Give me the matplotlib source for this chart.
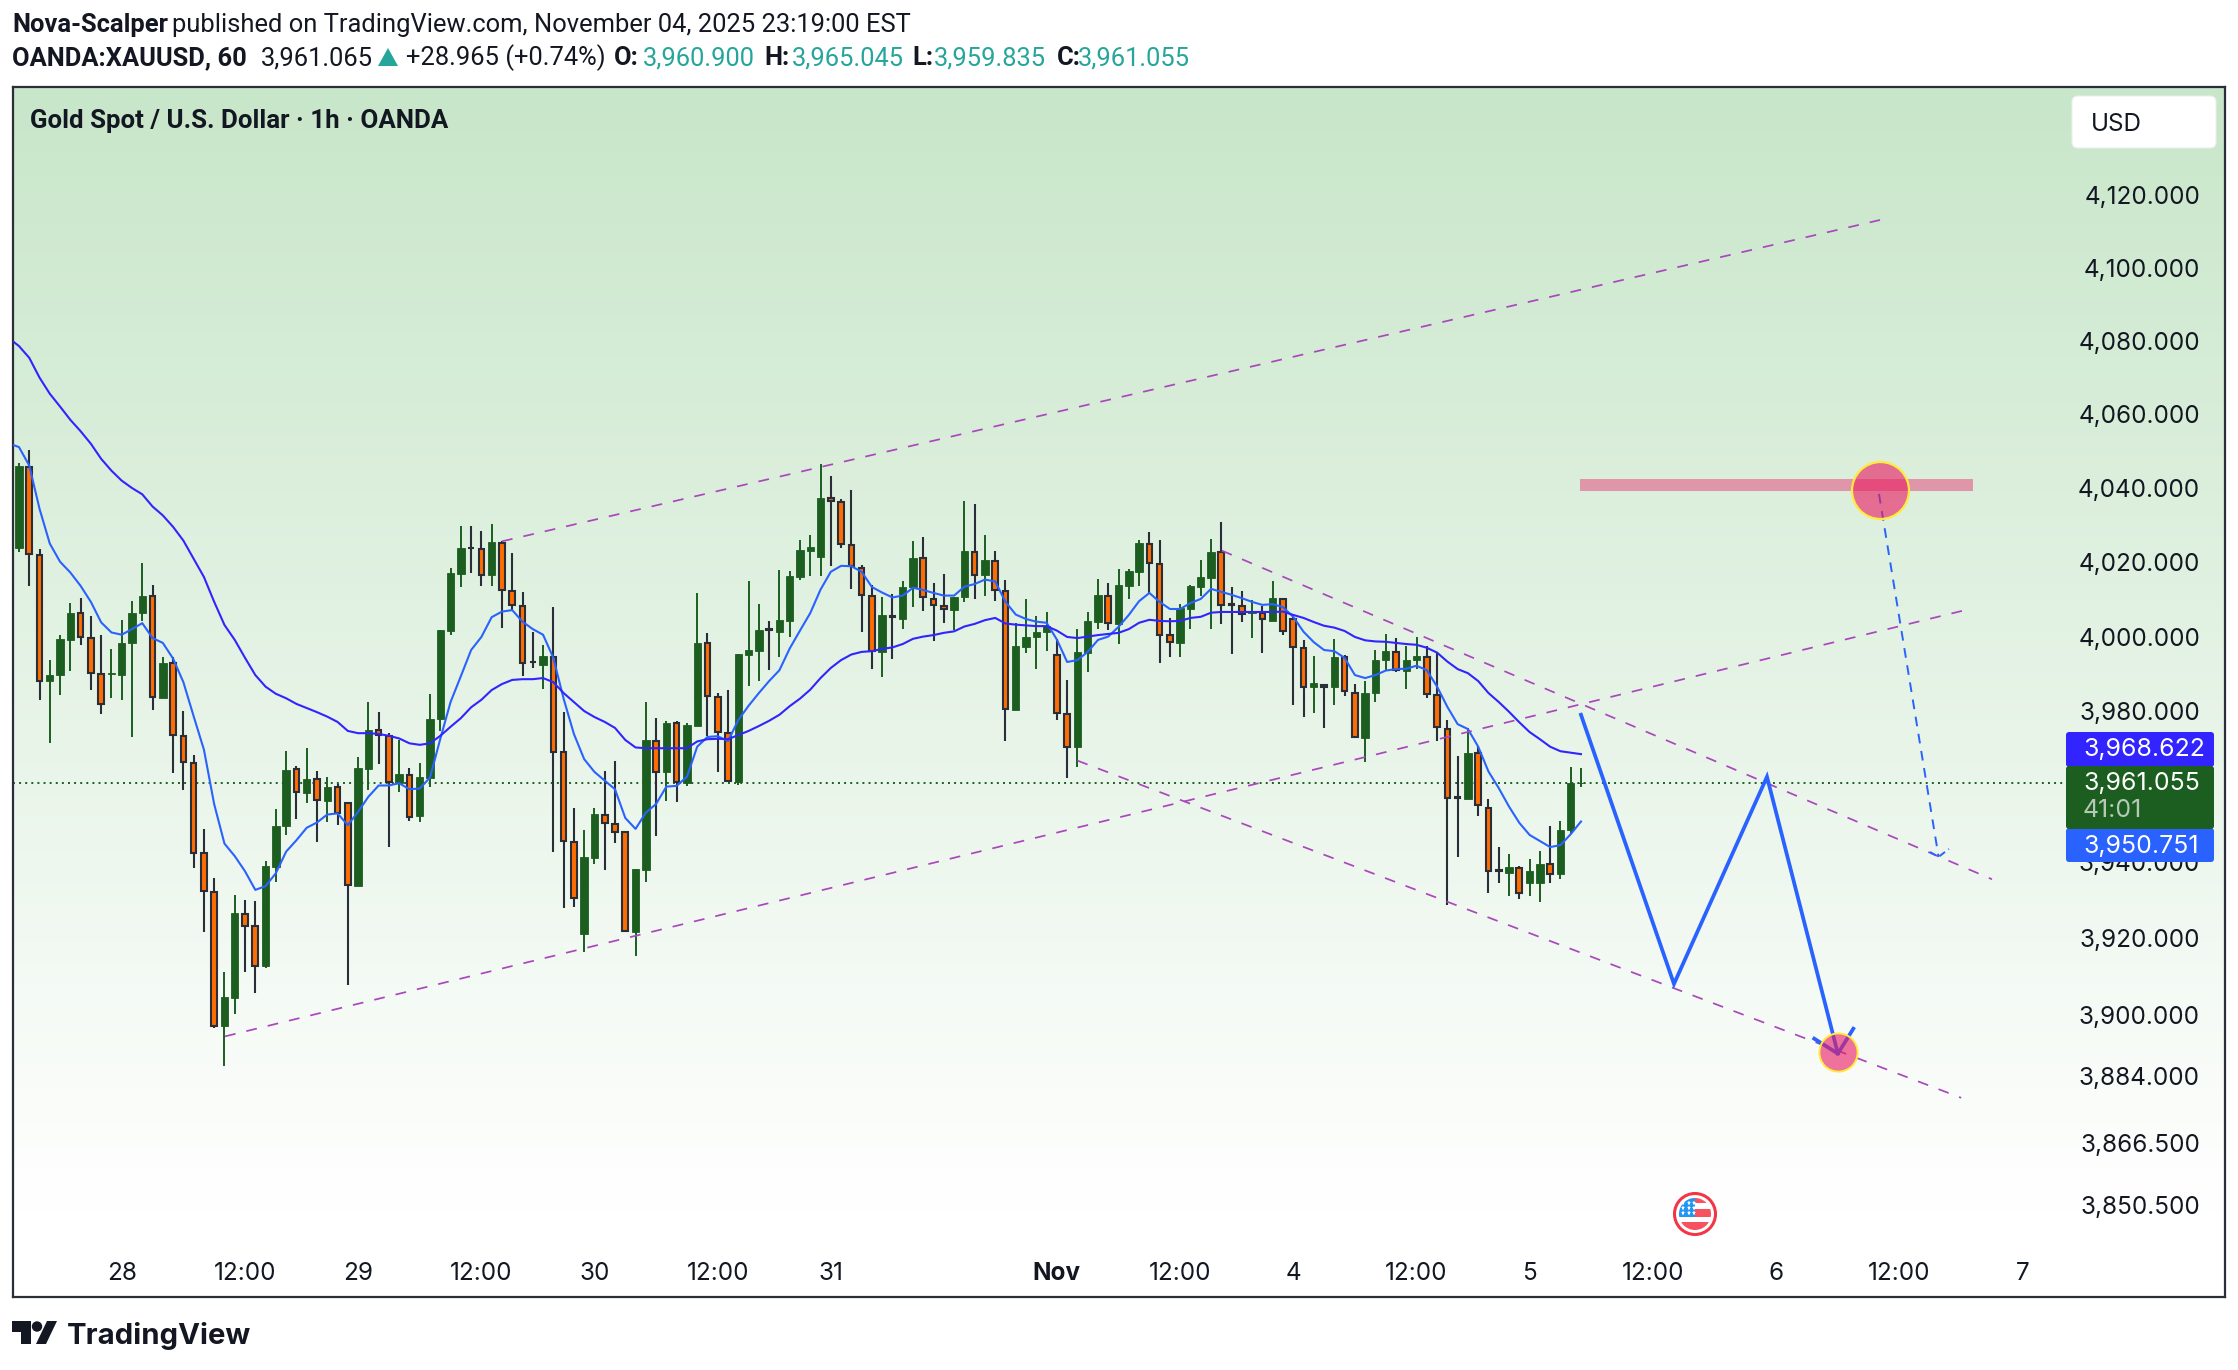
import numpy as np
import matplotlib
matplotlib.use("Agg")
import matplotlib.pyplot as plt
from matplotlib.patches import Circle, FancyBboxPatch, Polygon, Rectangle
from matplotlib.ticker import FixedLocator, NullLocator

# Candles, one value per hourly bar
bar_open = [
    4023.8, 4045.7, 4022.0, 3988.0, 3989.8, 3999.1, 4006.3, 3999.7, 3990.1, 3990.0,
    3989.8, 3998.4, 4006.4, 4010.9, 3983.7, 3993.0, 3973.5, 3966.3, 3942.3, 3932.2,
    3896.9, 3904.4, 3926.4, 3923.1, 3912.6, 3938.8, 3949.5, 3964.8, 3958.4, 3962.0,
    3956.3, 3959.9, 3955.7, 3933.8, 3964.8, 3975.0, 3973.5, 3961.0, 3963.2, 3952.1,
    3962.4, 3978.1, 4001.4, 4016.7, 4023.9, 4023.4, 4016.5, 4025.2, 4012.3, 4008.2,
    3993.3, 3992.4, 3994.6, 3969.1, 3945.4, 3921.2, 3941.2, 3952.6, 3950.2, 3947.9,
    3921.7, 3938.0, 3972.2, 3963.8, 3976.8, 3961.0, 3976.2, 3998.3, 3983.9, 3974.3,
    3961.1, 3995.2, 3996.2, 4002.0, 4001.3, 4004.3, 4015.9, 4023.1, 4021.3, 4037.3,
    4036.3, 4024.7, 4018.5, 4011.0, 3995.9, 4005.4, 4004.8, 4013.2, 4021.0, 4010.2,
    4008.3, 4007.2, 4010.5, 4022.8, 4016.6, 4020.4, 4012.3, 3980.5, 3997.3, 3999.8,
    4001.1, 3995.2, 3979.4, 3970.4, 3995.7, 4003.9, 4011.0, 4003.4, 4013.7, 4017.4,
    4025.0, 4019.5, 4000.5, 3998.4, 4007.5, 4013.4, 4015.8, 4022.6, 4008.7, 4008.2,
    4006.3, 4006.2, 4004.3, 4010.0, 4004.8, 3997.0, 3986.4, 3987.0, 3986.6, 3994.4,
    3985.0, 3973.0, 3985.0, 3993.6, 3996.0, 3990.9, 3993.8, 3994.6, 3984.5, 3975.4,
    3957.2, 3956.6, 3968.8, 3954.4, 3938.0, 3937.2, 3938.6, 3934.4, 3934.4, 3939.4,
    3936.8, 3948.4, 3960.9]
bar_high = [
    4046.7, 4050.4, 4023.5, 3993.8, 4000.3, 4009.0, 4010.4, 4005.5, 4000.3, 3996.8,
    4004.4, 4009.5, 4019.7, 4013.9, 3994.6, 3994.4, 3980.0, 3968.5, 3948.7, 3935.8,
    3911.1, 3931.4, 3930.0, 3929.7, 3940.2, 3954.0, 3969.4, 3965.5, 3970.2, 3964.1,
    3962.5, 3960.8, 3955.7, 3967.8, 3982.4, 3979.9, 3974.2, 3972.4, 3965.0, 3966.2,
    3984.6, 4001.7, 4018.3, 4029.8, 4029.8, 4028.4, 4030.3, 4025.6, 4022.4, 4011.9,
    4001.2, 3997.7, 4007.8, 3979.8, 3954.4, 3948.5, 3954.4, 3964.1, 3966.8, 3948.2,
    3938.1, 3982.5, 3978.2, 3977.4, 3977.4, 3976.9, 4011.6, 4000.9, 3984.9, 3985.6,
    3995.3, 4014.9, 4008.7, 4004.2, 4017.8, 4017.5, 4025.9, 4027.3, 4046.4, 4043.2,
    4036.9, 4039.4, 4019.1, 4013.8, 4010.5, 4011.4, 4014.9, 4025.7, 4026.7, 4014.3,
    4016.7, 4010.7, 4036.5, 4035.7, 4027.3, 4023.0, 4015.2, 4003.6, 4010.0, 4005.5,
    4006.5, 3999.3, 3988.3, 4002.0, 4006.5, 4015.5, 4014.3, 4018.2, 4018.2, 4026.0,
    4028.1, 4025.9, 4004.9, 4008.7, 4013.8, 4020.6, 4026.2, 4030.7, 4013.4, 4012.2,
    4009.7, 4008.2, 4014.8, 4010.1, 4005.2, 3999.0, 3994.8, 3987.2, 3999.3, 3995.0,
    3987.2, 3988.1, 3996.3, 4000.7, 3999.5, 3997.6, 3999.8, 3997.4, 3996.0, 3977.6,
    3968.1, 3975.5, 3970.9, 3956.7, 3944.0, 3942.2, 3938.9, 3940.8, 3943.0, 3949.5,
    3950.8, 3965.2, 3965.045]
bar_low = [
    4022.7, 4013.7, 3983.1, 3971.5, 3984.3, 3990.9, 3997.8, 3985.8, 3979.4, 3983.7,
    3983.1, 3973.1, 4004.2, 3980.5, 3983.5, 3963.7, 3959.0, 3938.4, 3921.7, 3896.4,
    3886.5, 3900.1, 3911.1, 3905.6, 3912.3, 3934.9, 3947.1, 3951.3, 3955.6, 3945.3,
    3950.7, 3949.7, 3907.8, 3933.8, 3959.2, 3966.0, 3943.9, 3958.7, 3951.0, 3950.7,
    3960.0, 3974.8, 4000.5, 4013.4, 4017.2, 4013.7, 4013.7, 4002.4, 4007.1, 3989.5,
    3991.5, 3986.1, 3942.8, 3927.8, 3928.1, 3916.4, 3939.6, 3938.0, 3945.2, 3921.8,
    3915.4, 3934.7, 3946.9, 3956.3, 3955.9, 3960.2, 3976.2, 3973.4, 3964.0, 3961.2,
    3960.3, 3986.8, 3988.1, 3991.1, 3994.6, 4000.0, 4015.3, 4016.3, 4016.3, 4019.0,
    4023.9, 4012.9, 4001.3, 3991.2, 3989.1, 3994.1, 4002.1, 4007.8, 4006.9, 3998.9,
    4003.7, 4001.8, 4009.2, 4010.2, 4010.9, 4009.5, 3972.2, 3980.5, 3995.5, 3991.2,
    3996.1, 3977.8, 3962.4, 3965.3, 3990.4, 4002.1, 4001.8, 3997.9, 4010.2, 4013.6,
    4011.5, 3993.0, 3994.4, 3994.4, 4001.9, 4010.9, 4001.9, 4003.5, 3995.3, 4003.8,
    3999.7, 3995.5, 4004.3, 4000.3, 3981.6, 3978.6, 3979.7, 3975.7, 3981.8, 3984.2,
    3972.8, 3966.6, 3982.4, 3990.7, 3990.6, 3986.1, 3991.3, 3983.7, 3972.0, 3928.6,
    3941.5, 3956.6, 3952.3, 3932.0, 3934.6, 3931.2, 3930.4, 3931.0, 3929.4, 3934.6,
    3935.6, 3947.7, 3959.835]
bar_close = [
    4046.0, 4022.1, 3988.1, 3989.8, 3999.4, 4006.4, 3999.8, 3990.2, 3982.0, 3990.3,
    3998.4, 4006.4, 4010.9, 3983.9, 3993.0, 3973.6, 3966.6, 3942.5, 3932.4, 3897.1,
    3904.5, 3926.6, 3923.3, 3912.7, 3938.9, 3949.5, 3964.5, 3958.7, 3962.1, 3956.4,
    3960.0, 3952.9, 3933.9, 3964.9, 3975.1, 3973.6, 3961.3, 3963.3, 3952.0, 3962.5,
    3978.1, 4001.7, 4017.1, 4023.7, 4023.7, 4016.6, 4025.3, 4012.6, 4008.4, 3992.9,
    3993.1, 3994.7, 3969.1, 3945.5, 3930.6, 3941.3, 3952.7, 3950.3, 3948.1, 3921.8,
    3938.1, 3972.3, 3963.9, 3976.9, 3961.1, 3976.4, 3998.4, 3984.0, 3974.4, 3961.4,
    3995.3, 3996.3, 4001.7, 4001.7, 4004.4, 4016.2, 4023.2, 4024.2, 4037.4, 4036.4,
    4024.8, 4019.0, 4011.1, 3996.1, 4005.7, 4005.2, 4013.2, 4021.1, 4010.7, 4008.4,
    4007.4, 4010.7, 4022.9, 4016.4, 4020.6, 4012.4, 3980.7, 3997.4, 3999.8, 4001.1,
    4002.8, 3979.5, 3970.5, 3996.0, 4004.1, 4011.1, 4003.6, 4013.8, 4017.6, 4025.1,
    4019.8, 4000.4, 3998.6, 4007.6, 4013.5, 4015.9, 4022.7, 4008.5, 4008.4, 4006.1,
    4006.6, 4004.7, 4010.3, 4001.4, 3997.2, 3986.5, 3987.5, 3986.4, 3994.5, 3985.5,
    3973.1, 3984.8, 3993.7, 3996.1, 3991.0, 3993.7, 3994.7, 3984.7, 3975.8, 3956.9,
    3956.9, 3968.9, 3955.0, 3937.7, 3937.7, 3938.7, 3931.8, 3937.6, 3939.5, 3936.9,
    3948.5, 3961.0, 3961.055]

# Moving averages, same bars, with one extra leading point at the left edge
ma_fast = [
    4051.6, 4051.1, 4046.1, 4034.4, 4025.0, 4020.1, 4017.2, 4013.6, 4009.3, 4003.8,
    4001.1, 4000.5, 4002.0, 4003.6, 3999.6, 3998.3, 3994.1, 3987.8, 3978.7, 3969.8,
    3955.3, 3944.9, 3941.6, 3937.6, 3932.7, 3933.7, 3937.1, 3942.8, 3945.8, 3949.1,
    3950.5, 3952.6, 3952.9, 3949.8, 3953.3, 3957.3, 3960.3, 3960.3, 3960.9, 3959.3,
    3959.5, 3962.4, 3972.7, 3982.5, 3989.4, 3996.4, 3999.9, 4005.2, 4006.7, 4007.1,
    4004.0, 4002.0, 4000.5, 3994.3, 3983.4, 3974.0, 3967.3, 3963.9, 3961.6, 3959.3,
    3951.7, 3948.8, 3953.1, 3955.4, 3960.0, 3960.2, 3962.6, 3970.6, 3973.2, 3973.4,
    3972.1, 3977.7, 3981.5, 3984.9, 3988.1, 3991.0, 3996.8, 4001.6, 4006.3, 4012.6,
    4017.4, 4019.0, 4018.9, 4017.4, 4013.3, 4011.8, 4010.5, 4011.0, 4013.1, 4012.5,
    4011.7, 4011.0, 4011.0, 4013.4, 4014.1, 4015.3, 4014.8, 4009.3, 4005.9, 4004.7,
    4004.0, 4003.7, 3999.2, 3993.2, 3993.7, 3995.9, 3999.1, 4000.0, 4002.6, 4005.8,
    4009.5, 4011.7, 4009.3, 4007.4, 4007.4, 4009.0, 4010.1, 4012.8, 4012.0, 4011.2,
    4010.3, 4009.3, 4008.5, 4008.7, 4007.9, 4005.3, 4001.3, 3998.5, 3996.4, 3996.1,
    3994.3, 3989.7, 3988.9, 3989.7, 3990.9, 3991.3, 3991.4, 3992.2, 3991.0, 3986.6,
    3981.2, 3976.6, 3975.3, 3970.6, 3964.0, 3959.6, 3954.7, 3950.4, 3947.2, 3945.6,
    3944.0, 3944.5, 3947.4, 3950.751]
ma_slow = [
    4079.7, 4078.6, 4075.4, 4070.0, 4065.6, 4062.1, 4058.5, 4055.4, 4052.0, 4047.9,
    4044.7, 4042.0, 4040.0, 4038.3, 4035.0, 4032.6, 4029.5, 4025.8, 4020.9, 4016.0,
    4009.3, 4003.1, 3999.1, 3994.3, 3989.7, 3986.6, 3984.7, 3983.5, 3982.0, 3980.9,
    3979.8, 3978.6, 3977.2, 3974.8, 3974.2, 3974.2, 3974.0, 3973.5, 3972.8, 3971.5,
    3971.1, 3971.5, 3973.5, 3975.9, 3978.2, 3981.1, 3983.1, 3985.7, 3987.3, 3988.4,
    3988.6, 3988.6, 3988.9, 3987.8, 3984.9, 3982.5, 3980.1, 3978.5, 3977.2, 3975.6,
    3972.4, 3970.4, 3970.2, 3970.2, 3970.2, 3970.2, 3970.2, 3972.0, 3972.6, 3972.7,
    3972.6, 3973.7, 3974.8, 3976.1, 3977.5, 3979.1, 3981.4, 3983.4, 3985.8, 3988.9,
    3991.6, 3993.7, 3995.2, 3995.9, 3996.1, 3996.7, 3997.1, 3998.0, 3999.4, 4000.0,
    4000.4, 4001.0, 4001.4, 4002.7, 4003.4, 4004.4, 4005.0, 4003.5, 4003.2, 4003.0,
    4002.8, 4002.8, 4001.6, 3999.9, 3999.6, 4000.0, 4000.4, 4000.7, 4001.0, 4002.0,
    4003.7, 4004.5, 4004.2, 4004.1, 4004.2, 4005.0, 4005.3, 4006.4, 4006.6, 4006.6,
    4006.6, 4006.6, 4006.6, 4006.6, 4006.7, 4005.8, 4005.0, 4003.9, 4002.9, 4002.4,
    4001.5, 3999.9, 3999.0, 3998.7, 3998.6, 3998.3, 3998.0, 3997.8, 3997.0, 3995.7,
    3993.3, 3991.3, 3990.2, 3988.1, 3984.9, 3982.5, 3979.9, 3977.1, 3974.5, 3972.6,
    3970.6, 3969.4, 3969.0, 3968.622]

# Axis ticks
price_ticks = [4120, 4100, 4080, 4060, 4040, 4020, 4000, 3980, 3940, 3920, 3900, 3884, 3866.5, 3850.5]
price_tick_labels = ["4,120.000", "4,100.000", "4,080.000", "4,060.000", "4,040.000", "4,020.000",
                     "4,000.000", "3,980.000", "3,940.000", "3,920.000", "3,900.000", "3,884.000",
                     "3,866.500", "3,850.500"]
time_ticks = [11, 23, 34, 46, 57, 69, 80, 102, 114, 125, 137, 148, 160, 172, 184, 196]
time_tick_labels = ["28", "12:00", "29", "12:00", "30", "12:00", "31", "Nov", "12:00",
                    "4", "12:00", "5", "12:00", "6", "12:00", "7"]

# Drawings on the chart, as (bar, price) pairs
channel_top = ([48.0, 182.1], [4025.6, 4113.2])
channel_bottom = ([21.05, 190.1], [3894.3, 4006.9])
wedge_top = ([118.05, 193.0], [4023.1, 3935.5])
wedge_bottom = ([104.0, 190.0], [3966.9, 3878.3])
zigzag = ([153.0, 162.05, 171.1, 178.0], [3979.1, 3908.0, 3962.6, 3889.8])
zigzag_head = ([175.7, 178.0, 179.5], [3893.7, 3889.8, 3896.3])
dashed_path = ([182.0, 187.8], [4038.4, 3941.4])
dashed_head = ([186.96, 187.8, 188.8], [3942.7, 3941.4, 3943.5])
zone_bars = [152.9, 191.1]
zone_low, zone_high = 4039.2, 4042.5
big_dot = (182.1, 4039.5)
small_dot = (178.0, 3890.3)

last_price = 3961.055

GREEN = "#1b5e20"
ORANGE = "#ff6d00"
DARK = "#2a2e39"
TEXT = "#131722"
TEAL = "#26a69a"
FAST = "#2962ff"
SLOW = "#3124ff"
PURPLE = "#ab47bc"
SANS = ["Inter", "DejaVu Sans"]
HEAD = ["Roboto", "DejaVu Sans"]
AXIS_SIZE = 17.5

W, H = 2238, 1370
L, T, R, B = 13, 87, 2225, 1297

plt.rcParams["lines.scale_dashes"] = False
fig = plt.figure(figsize=(W / 100, H / 100), dpi=100, facecolor="white")
rect = [L / W, 1 - B / H, (R - L) / W, (B - T) / H]

# Background gradient lives in its own axes because the price axis is log
bg = fig.add_axes(rect, zorder=0)
grad = np.zeros((256, 1, 3))
top_c = np.array([200, 230, 201]) / 255
for i in range(256):
    t = min(i / 255 / 0.93, 1)
    grad[i, 0] = top_c * (1 - t) + np.ones(3) * t
bg.imshow(grad, aspect="auto", extent=[0, 1, 0, 1])
bg.axis("off")

ax = fig.add_axes(rect, zorder=1)
ax.patch.set_alpha(0)
ax.set_yscale("log")
ax.set_xlim(0.42, 215.67)
ax.set_ylim(3826.9, 4150.0)

# Candles
n_bars = len(bar_open)
bars = np.arange(1, n_bars + 1)
o = np.array(bar_open)
h = np.array(bar_high)
l = np.array(bar_low)
c = np.array(bar_close)
up = c >= o
ax.vlines(bars[up], l[up], h[up], color=GREEN, lw=1.4, zorder=3)
ax.vlines(bars[~up], l[~up], h[~up], color=DARK, lw=1.5, zorder=3)
ax.bar(bars[up], (c - o)[up], bottom=o[up], width=0.72, color=GREEN, edgecolor=GREEN, lw=0.6, zorder=4)
ax.bar(bars[~up], (o - c)[~up], bottom=c[~up], width=0.55, color=ORANGE, edgecolor=DARK, lw=1.5, zorder=4)

# Moving averages
ma_bars = np.concatenate([[0.5], bars])
ax.plot(ma_bars, ma_fast, color=FAST, lw=1.5, zorder=5)
ax.plot(ma_bars, ma_slow, color=SLOW, lw=1.5, zorder=5)

# Last price line
ax.hlines(last_price, 0.42, 200.2, color=GREEN, lw=1.4, linestyles=[(0, (1.4, 3.0))], zorder=2)

# Trend lines
for xs, ys in [channel_top, channel_bottom, wedge_top, wedge_bottom]:
    ax.plot(xs, ys, color=PURPLE, lw=1.25, linestyle=(0, (7.8, 8.0)), zorder=6)

# Projected path
ax.plot(zigzag[0], zigzag[1], color=FAST, lw=2.7, zorder=6, solid_joinstyle="miter")
ax.plot(zigzag_head[0], zigzag_head[1], color=FAST, lw=2.7, zorder=6)
ax.plot(dashed_path[0], dashed_path[1], color=FAST, lw=1.4, linestyle=(0, (7, 5.5)), zorder=6)
ax.plot(dashed_head[0], dashed_head[1], color=FAST, lw=1.4, linestyle=(0, (5, 3)), zorder=6)

# Resistance zone and the two round markers
ax.fill_between(zone_bars, zone_low, zone_high, color="#e91e63", alpha=0.42, lw=0, zorder=6)
ax.plot([big_dot[0]], [big_dot[1]], "o", ms=41, mfc=(0.914, 0.118, 0.388, 0.62), mec="#ffeb3b", mew=1.6, zorder=7)
ax.plot([small_dot[0]], [small_dot[1]], "o", ms=27.5, mfc=(0.914, 0.118, 0.388, 0.62), mec="#ffeb3b", mew=1.4, zorder=7)

# Ticks sit inside the frame
ax.yaxis.set_major_locator(FixedLocator(price_ticks))
ax.yaxis.set_minor_locator(NullLocator())
ax.set_yticklabels(price_tick_labels, fontsize=AXIS_SIZE, color=TEXT, family=SANS)
ax.yaxis.tick_right()
ax.tick_params(axis="y", which="both", length=0, pad=-18, labelright=True, labelleft=False)
for t in ax.yaxis.get_major_ticks():
    t.label2.set_ha("right")
ax.set_xticks(time_ticks, time_tick_labels, fontsize=AXIS_SIZE, color=TEXT, family=SANS)
ax.xaxis.set_minor_locator(NullLocator())
ax.tick_params(axis="x", length=0, pad=-25)
for lab in ax.get_xticklabels():
    if lab.get_text() == "Nov":
        lab.set_fontweight("bold")
for s in ax.spines.values():
    s.set_color(DARK)
    s.set_linewidth(1.6)

# Overlay in image pixels for the labels and logos
ov = fig.add_axes([0, 0, 1, 1], zorder=2)
ov.set_xlim(0, W)
ov.set_ylim(H, 0)
ov.axis("off")

# Header pieces, each at the left edge it has in the picture
header_rows = [
    (25, [(12, "Nova-Scalper", TEXT, "bold"),
          (172, "published on TradingView.com, November 04, 2025 23:19:00 EST", TEXT, "normal")]),
    (58, [(12, "OANDA:XAUUSD, 60", TEXT, "bold"), (261, "3,961.065", TEXT, "normal"),
          (406, "+28.965 (+0.74%)", TEXT, "normal"), (614, "O:", TEXT, "bold"),
          (643, "3,960.900", TEAL, "normal"), (764, "H:", TEXT, "bold"),
          (792, "3,965.045", TEAL, "normal"), (912, "L:", TEXT, "bold"),
          (934, "3,959.835", TEAL, "normal"), (1057, "C:", TEXT, "bold"),
          (1078, "3,961.055", TEAL, "normal")]),
    (121, [(30, "Gold Spot / U.S. Dollar · 1h · OANDA", TEXT, "bold")]),
]
for y, parts in header_rows:
    for x, s, col, weight in parts:
        size = 18.6 if y == 121 else 18.4
        ov.text(x, y, s, color=col, fontsize=size, fontweight=weight, family=HEAD, va="center", ha="left")
ov.add_patch(Polygon([(378, 66), (398, 66), (388, 48)], fc=TEAL, ec="none"))


def tag(y0, y1, color, rad=3):
    ov.add_patch(FancyBboxPatch((2066 + rad, y0 + rad), 148 - 2 * rad, y1 - y0 - 2 * rad,
                                boxstyle=f"round,pad={rad}", fc=color, ec="none"))


# USD box
ov.add_patch(FancyBboxPatch((2078, 102), 132, 40, boxstyle="round,pad=6", fc="white", ec="#eceef0", lw=0.8))
ov.text(2091, 124, "USD", fontsize=AXIS_SIZE, color=TEXT, family=SANS, va="center", ha="left")

# Price tags
tag(732, 767, SLOW)
tag(828, 862, FAST)
tag(766, 829, GREEN)
ov.text(2083, 749, "3,968.622", fontsize=17.9, color="white", family=SANS, va="center")
ov.text(2083, 783, "3,961.055", fontsize=17.9, color="white", family=SANS, va="center")
ov.text(2083, 810, "41:01", fontsize=17.9, color="#b6c8b7", family=SANS, va="center")
ov.text(2083, 846, "3,950.751", fontsize=17.9, color="white", family=SANS, va="center")

# US flag badge
cx, cy = 1695, 1214
ov.add_patch(Circle((cx, cy), 20.5, fc="white", ec="#f23645", lw=2.2))
clip = Circle((cx, cy), 16, transform=ov.transData)
for y0, y1, col in [(cy - 16, cy - 11, "#f7525f"), (cy - 5, cy + 3, "#f7525f"), (cy + 8, cy + 16, "#f7525f")]:
    r = Rectangle((cx, y0) if y1 < cy + 4 else (cx - 16, y0), 16 if y1 < cy + 4 else 32, y1 - y0, fc=col, ec="none")
    ov.add_patch(r)
    r.set_clip_path(clip)
blue = Rectangle((cx - 16, cy - 16), 16, 19, fc="#2196f3", ec="none")
ov.add_patch(blue)
blue.set_clip_path(clip)
for dx in (-12, -6, -1):
    for dy in (-11, -6, -1):
        ov.plot(cx + dx, cy + dy, "*", ms=3.6, color="white", mew=0)

# TradingView logo
ov.add_patch(Polygon([(12, 1321), (31, 1321), (31, 1344), (21, 1344), (21, 1332), (12, 1332)], fc=TEXT, ec="none"))
ov.add_patch(Circle((37, 1326.5), 5.2, fc=TEXT, ec="none"))
ov.add_patch(Polygon([(47, 1321), (57, 1321), (46, 1344), (36, 1344)], fc=TEXT, ec="none"))
ov.text(67, 1336, "TradingView", fontsize=21.1, fontweight="bold", color=TEXT,
        family=SANS, va="center", ha="left")

fig.savefig("out.png", dpi=100)
